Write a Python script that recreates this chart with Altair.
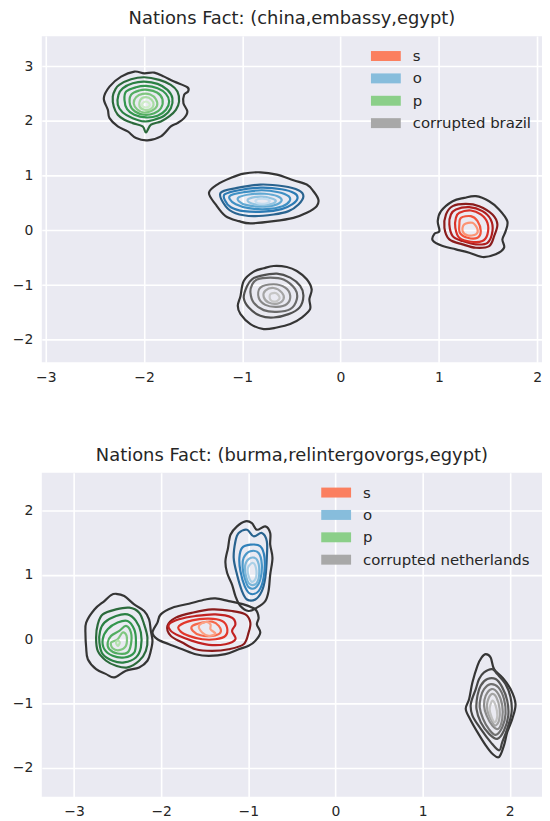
import altair as alt
import pandas as pd

# ---------------- Panel 1: (china, embassy, egypt) ----------------
TITLE_1 = "Nations Fact: (china,embassy,egypt)"
LEGEND_1 = ["s", "o", "p", "corrupted brazil"]
X_TICKS_1 = [-3, -2, -1, 0, 1, 2]
Y_TICKS_1 = [-2, -1, 0, 1, 2, 3]
X_DOMAIN_1 = [-3.04, 2.05]
Y_DOMAIN_1 = [-2.41, 3.55]

# contour rings, outermost first (x, y)
P1_GREEN = [
    [(-2.098, 2.902), (-1.997, 2.871), (-1.896, 2.883), (-1.795, 2.810), (-1.694, 2.719), (-1.559, 2.616),
     (-1.552, 2.538), (-1.592, 2.477), (-1.599, 2.324), (-1.559, 2.173), (-1.592, 2.051), (-1.660, 1.960),
     (-1.727, 1.900), (-1.828, 1.718), (-1.964, 1.645), (-2.081, 1.687), (-2.166, 1.809), (-2.267, 1.900),
     (-2.351, 2.051), (-2.368, 2.204), (-2.409, 2.415), (-2.351, 2.628), (-2.233, 2.810)],
    [(-2.252, 2.659), (-2.132, 2.761), (-1.997, 2.798), (-1.845, 2.750), (-1.727, 2.659), (-1.660, 2.537),
     (-1.643, 2.355), (-1.676, 2.204), (-1.744, 2.082), (-1.828, 1.991), (-1.929, 1.931), (-1.980, 1.791),
     (-2.014, 1.900), (-2.115, 1.960), (-2.200, 2.022), (-2.267, 2.113), (-2.308, 2.264), (-2.318, 2.446),
     (-2.294, 2.568)],
    [(-2.217, 2.597), (-2.115, 2.689), (-1.997, 2.719), (-1.862, 2.678), (-1.761, 2.568), (-1.711, 2.415),
     (-1.727, 2.233), (-1.795, 2.095), (-1.896, 2.022), (-1.997, 1.991), (-2.115, 2.051), (-2.217, 2.155),
     (-2.267, 2.295), (-2.260, 2.477)],
    [(-2.182, 2.537), (-2.081, 2.616), (-1.980, 2.641), (-1.862, 2.597), (-1.777, 2.495), (-1.744, 2.355),
     (-1.777, 2.204), (-1.862, 2.095), (-1.980, 2.064), (-2.099, 2.113), (-2.172, 2.215), (-2.199, 2.386)],
    [(-2.132, 2.477), (-2.048, 2.556), (-1.964, 2.568), (-1.868, 2.519), (-1.812, 2.397), (-1.828, 2.233),
     (-1.896, 2.142), (-1.997, 2.113), (-2.091, 2.173), (-2.142, 2.295)],
    [(-2.081, 2.434), (-2.014, 2.495), (-1.936, 2.483), (-1.879, 2.397), (-1.868, 2.277), (-1.923, 2.186),
     (-2.004, 2.155), (-2.071, 2.215), (-2.105, 2.324)],
    [(-2.037, 2.386), (-1.980, 2.434), (-1.923, 2.386), (-1.903, 2.295), (-1.936, 2.215), (-1.997, 2.204),
     (-2.045, 2.264)],
    [(-2.017, 2.319), (-1.982, 2.355), (-1.946, 2.319), (-1.946, 2.273), (-1.982, 2.246), (-2.017, 2.273)],
]
P1_GREEN_COLORS = ["#353535", "#2b6a3b", "#2a8043", "#33964e", "#52ad61", "#80c780", "#a8dca3", "#cfedca"]

P1_BLUE = [
    [(-1.339, 0.685), (-1.255, 0.838), (-1.119, 0.958), (-0.985, 1.038), (-0.816, 1.062), (-0.648, 1.020),
     (-0.479, 0.916), (-0.344, 0.838), (-0.276, 0.716), (-0.226, 0.565), (-0.243, 0.443), (-0.344, 0.321),
     (-0.479, 0.230), (-0.681, 0.169), (-0.917, 0.128), (-1.035, 0.169), (-1.170, 0.260), (-1.271, 0.474)],
    [(-1.221, 0.685), (-1.053, 0.776), (-0.816, 0.838), (-0.580, 0.807), (-0.428, 0.734), (-0.378, 0.625),
     (-0.428, 0.474), (-0.529, 0.352), (-0.681, 0.291), (-0.884, 0.260), (-1.069, 0.315), (-1.170, 0.443)],
    [(-1.177, 0.661), (-1.035, 0.734), (-0.813, 0.780), (-0.600, 0.752), (-0.469, 0.679), (-0.438, 0.588),
     (-0.489, 0.479), (-0.600, 0.388), (-0.782, 0.342), (-0.985, 0.352), (-1.116, 0.424), (-1.177, 0.552)],
    [(-1.116, 0.643), (-0.985, 0.698), (-0.803, 0.734), (-0.631, 0.698), (-0.529, 0.625), (-0.519, 0.534),
     (-0.590, 0.443), (-0.752, 0.388), (-0.934, 0.406), (-1.066, 0.479), (-1.127, 0.570)],
    [(-1.035, 0.607), (-0.914, 0.661), (-0.772, 0.670), (-0.641, 0.625), (-0.600, 0.543), (-0.671, 0.461),
     (-0.813, 0.434), (-0.954, 0.461), (-1.035, 0.534)],
    [(-0.934, 0.579), (-0.813, 0.616), (-0.691, 0.579), (-0.661, 0.525), (-0.732, 0.470), (-0.853, 0.470),
     (-0.934, 0.516)],
    [(-0.863, 0.552), (-0.792, 0.579), (-0.722, 0.543), (-0.752, 0.497), (-0.843, 0.497)],
]
P1_BLUE_COLORS = ["#353535", "#29638f", "#2c7bb4", "#3f90c4", "#62a9d3", "#93c4e1", "#c3dcef"]

P1_RED = [
    [(1.377, 0.625), (1.512, 0.534), (1.613, 0.383), (1.697, 0.169), (1.680, -0.013), (1.647, -0.164),
     (1.664, -0.317), (1.579, -0.437), (1.444, -0.486), (1.310, -0.408), (1.174, -0.346), (1.039, -0.286),
     (0.938, -0.182), (0.955, -0.062), (1.006, -0.013), (0.989, 0.169), (1.022, 0.352), (1.141, 0.534),
     (1.259, 0.594)],
    [(1.141, 0.443), (1.275, 0.485), (1.411, 0.443), (1.546, 0.291), (1.596, 0.109), (1.563, -0.104),
     (1.512, -0.286), (1.377, -0.317), (1.242, -0.255), (1.107, -0.164), (1.057, 0.047), (1.073, 0.291)],
    [(1.174, 0.383), (1.310, 0.424), (1.444, 0.352), (1.528, 0.200), (1.546, -0.013), (1.495, -0.226),
     (1.377, -0.255), (1.242, -0.195), (1.141, -0.104), (1.107, 0.109), (1.123, 0.291)],
    [(1.209, 0.321), (1.326, 0.364), (1.427, 0.291), (1.495, 0.138), (1.495, -0.073), (1.444, -0.195),
     (1.326, -0.208), (1.209, -0.135), (1.168, 0.047), (1.174, 0.230)],
    [(1.225, 0.230), (1.326, 0.260), (1.394, 0.169), (1.427, -0.013), (1.394, -0.135), (1.293, -0.135),
     (1.215, -0.044), (1.209, 0.109)],
    [(1.259, 0.109), (1.343, 0.138), (1.394, 0.018), (1.377, -0.073), (1.293, -0.091), (1.242, -0.013)],
]
P1_RED_COLORS = ["#353535", "#8a1c1c", "#b01e1e", "#d83027", "#f2543b", "#fc9474"]

P1_GRAY = [
    [(-0.681, -0.650), (-0.547, -0.668), (-0.445, -0.741), (-0.344, -0.893), (-0.294, -1.075), (-0.317, -1.257),
     (-0.310, -1.439), (-0.395, -1.592), (-0.512, -1.712), (-0.648, -1.774), (-0.782, -1.803), (-0.917, -1.712),
     (-1.018, -1.530), (-1.046, -1.379), (-1.018, -1.197), (-0.985, -0.923), (-0.884, -0.754), (-0.782, -0.692)],
    [(-0.816, -0.832), (-0.648, -0.790), (-0.512, -0.863), (-0.411, -1.015), (-0.378, -1.197), (-0.418, -1.410),
     (-0.529, -1.530), (-0.681, -1.592), (-0.816, -1.561), (-0.934, -1.410), (-0.985, -1.228), (-0.951, -1.015),
     (-0.901, -0.893)],
    [(-0.850, -0.898), (-0.715, -0.863), (-0.580, -0.898), (-0.462, -1.075), (-0.445, -1.257), (-0.512, -1.439),
     (-0.648, -1.488), (-0.782, -1.457), (-0.884, -1.319), (-0.917, -1.137), (-0.901, -0.996)],
    [(-0.816, -1.046), (-0.681, -0.984), (-0.563, -1.046), (-0.512, -1.197), (-0.547, -1.348), (-0.648, -1.397),
     (-0.765, -1.361), (-0.833, -1.228)],
    [(-0.765, -1.101), (-0.681, -1.052), (-0.597, -1.137), (-0.580, -1.257), (-0.641, -1.337), (-0.732, -1.319),
     (-0.782, -1.215)],
    [(-0.715, -1.166), (-0.654, -1.148), (-0.620, -1.239), (-0.664, -1.301), (-0.715, -1.264)],
]
P1_GRAY_COLORS = ["#353535", "#505050", "#6a6a6a", "#878787", "#a5a5a5", "#c6c6c6"]

# ---------------- Panel 2: (burma, relintergovorgs, egypt) ----------------
TITLE_2 = "Nations Fact: (burma,relintergovorgs,egypt)"
LEGEND_2 = ["s", "o", "p", "corrupted netherlands"]
X_TICKS_2 = [-3, -2, -1, 0, 1, 2]
Y_TICKS_2 = [-2, -1, 0, 1, 2]
X_DOMAIN_2 = [-3.37, 2.37]
Y_DOMAIN_2 = [-2.45, 2.59]

P2_GREEN = [
    [(-2.518, 0.707), (-2.424, 0.672), (-2.310, 0.542), (-2.196, 0.440), (-2.139, 0.310), (-2.119, 0.130),
     (-2.100, -0.025), (-2.119, -0.180), (-2.158, -0.334), (-2.253, -0.438), (-2.404, -0.489), (-2.538, -0.593),
     (-2.632, -0.542), (-2.747, -0.464), (-2.842, -0.310), (-2.861, -0.128), (-2.869, 0.077), (-2.861, 0.259),
     (-2.766, 0.464), (-2.652, 0.594), (-2.575, 0.687)],
    [(-2.671, 0.387), (-2.518, 0.464), (-2.366, 0.491), (-2.253, 0.413), (-2.196, 0.232), (-2.158, 0.026),
     (-2.176, -0.180), (-2.253, -0.334), (-2.386, -0.438), (-2.518, -0.412), (-2.632, -0.334), (-2.728, -0.180),
     (-2.747, 0.026), (-2.728, 0.232)],
    [(-2.652, 0.259), (-2.518, 0.362), (-2.386, 0.387), (-2.290, 0.285), (-2.233, 0.104), (-2.233, -0.128),
     (-2.290, -0.283), (-2.424, -0.359), (-2.557, -0.334), (-2.671, -0.232), (-2.709, -0.051), (-2.701, 0.130)],
    [(-2.614, 0.155), (-2.500, 0.259), (-2.386, 0.285), (-2.310, 0.155), (-2.290, -0.025), (-2.310, -0.206),
     (-2.424, -0.283), (-2.557, -0.257), (-2.652, -0.155), (-2.671, 0.0)],
    [(-2.575, 0.053), (-2.481, 0.130), (-2.404, 0.207), (-2.347, 0.104), (-2.347, -0.077), (-2.386, -0.206),
     (-2.500, -0.221), (-2.595, -0.155), (-2.614, -0.051)],
    [(-2.575, -0.051), (-2.500, 0.0), (-2.443, 0.104), (-2.397, 0.053), (-2.404, -0.102), (-2.481, -0.170),
     (-2.557, -0.139)],
    [(-2.518, -0.051), (-2.498, -0.020), (-2.475, -0.051), (-2.498, -0.105)],
]
P2_GREEN_COLORS = ["#353535", "#2b6a3b", "#2a8043", "#33964e", "#52ad61", "#80c780", "#b4e1ae"]

P2_RED = [
    [(-2.100, 0.104), (-2.043, 0.259), (-2.005, 0.387), (-1.872, 0.491), (-1.682, 0.553), (-1.491, 0.619),
     (-1.377, 0.635), (-1.225, 0.594), (-1.054, 0.542), (-0.920, 0.464), (-0.882, 0.336), (-0.902, 0.232),
     (-0.863, 0.104), (-0.920, -0.025), (-0.997, -0.102), (-1.111, -0.155), (-1.263, -0.232), (-1.453, -0.257),
     (-1.605, -0.232), (-1.758, -0.155), (-1.910, -0.077), (-2.043, 0.0)],
    [(-1.929, 0.207), (-1.833, 0.336), (-1.644, 0.413), (-1.416, 0.464), (-1.187, 0.440), (-1.034, 0.387),
     (-0.977, 0.259), (-0.997, 0.104), (-1.054, -0.077), (-1.225, -0.155), (-1.416, -0.180), (-1.605, -0.155),
     (-1.758, -0.051), (-1.890, 0.053)],
    [(-1.910, 0.232), (-1.796, 0.310), (-1.605, 0.362), (-1.377, 0.387), (-1.187, 0.336), (-1.148, 0.232),
     (-1.187, 0.130), (-1.148, 0.0), (-1.263, -0.077), (-1.453, -0.087), (-1.644, -0.025), (-1.796, 0.053),
     (-1.890, 0.130)],
    [(-1.796, 0.207), (-1.644, 0.294), (-1.453, 0.320), (-1.301, 0.285), (-1.244, 0.181), (-1.263, 0.053),
     (-1.377, 0.0), (-1.530, 0.0), (-1.682, 0.053), (-1.776, 0.119)],
    [(-1.644, 0.207), (-1.530, 0.259), (-1.416, 0.274), (-1.339, 0.207), (-1.320, 0.104), (-1.416, 0.053),
     (-1.548, 0.062), (-1.636, 0.130)],
    [(-1.567, 0.207), (-1.491, 0.269), (-1.434, 0.232), (-1.434, 0.155), (-1.377, 0.088), (-1.453, 0.053),
     (-1.530, 0.104)],
]
P2_RED_COLORS = ["#353535", "#8a1c1c", "#c22222", "#e2372b", "#f6684b", "#fca083"]

P2_BLUE = [
    [(-1.034, 1.833), (-0.959, 1.806), (-0.902, 1.703), (-0.806, 1.755), (-0.749, 1.652), (-0.749, 1.471),
     (-0.723, 1.265), (-0.749, 1.006), (-0.768, 0.749), (-0.806, 0.594), (-0.902, 0.491), (-0.997, 0.440),
     (-1.091, 0.517), (-1.148, 0.672), (-1.187, 0.851), (-1.244, 1.033), (-1.263, 1.214), (-1.233, 1.420),
     (-1.205, 1.625), (-1.130, 1.755)],
    [(-1.111, 1.652), (-1.016, 1.703), (-0.939, 1.601), (-0.845, 1.652), (-0.788, 1.523), (-0.788, 1.265),
     (-0.806, 0.955), (-0.845, 0.749), (-0.920, 0.619), (-1.016, 0.619), (-1.073, 0.749), (-1.130, 1.006),
     (-1.168, 1.265), (-1.148, 1.523)],
    [(-1.073, 1.420), (-0.977, 1.471), (-0.863, 1.446), (-0.814, 1.265), (-0.825, 0.955), (-0.882, 0.749),
     (-0.977, 0.707), (-1.042, 0.827), (-1.091, 1.059), (-1.103, 1.265)],
    [(-1.054, 1.265), (-0.977, 1.368), (-0.882, 1.342), (-0.845, 1.161), (-0.863, 0.929), (-0.920, 0.800),
     (-0.997, 0.811), (-1.042, 0.955), (-1.065, 1.110)],
    [(-1.034, 1.161), (-0.977, 1.265), (-0.902, 1.238), (-0.874, 1.059), (-0.902, 0.878), (-0.977, 0.851),
     (-1.027, 0.981)],
    [(-1.005, 1.110), (-0.951, 1.187), (-0.913, 1.110), (-0.913, 0.955), (-0.959, 0.893), (-0.997, 0.981)],
]
P2_BLUE_COLORS = ["#353535", "#29638f", "#3081ba", "#4b98c9", "#7ab6d9", "#abd0e7"]

P2_GRAY = [
    [(1.724, -0.232), (1.781, -0.283), (1.820, -0.464), (1.914, -0.593), (2.009, -0.774), (2.066, -1.006),
     (2.029, -1.238), (1.971, -1.444), (1.934, -1.650), (1.877, -1.831), (1.800, -1.780), (1.724, -1.650),
     (1.629, -1.444), (1.553, -1.263), (1.495, -1.084), (1.534, -0.929), (1.572, -0.670), (1.629, -0.412),
     (1.678, -0.283)],
    [(1.705, -0.515), (1.800, -0.464), (1.857, -0.542), (1.952, -0.697), (2.009, -0.902), (2.021, -1.135),
     (1.971, -1.393), (1.914, -1.599), (1.877, -1.728), (1.781, -1.599), (1.667, -1.393), (1.572, -1.186),
     (1.553, -1.006), (1.610, -0.774), (1.648, -0.619)],
    [(1.667, -0.721), (1.743, -0.619), (1.838, -0.619), (1.914, -0.748), (1.971, -0.954), (1.983, -1.186),
     (1.934, -1.418), (1.857, -1.548), (1.763, -1.471), (1.667, -1.289), (1.618, -1.084), (1.629, -0.876)],
    [(1.705, -0.774), (1.781, -0.697), (1.869, -0.748), (1.934, -0.929), (1.952, -1.161), (1.914, -1.367),
     (1.838, -1.486), (1.763, -1.402), (1.694, -1.238), (1.655, -1.057), (1.667, -0.902)],
    [(1.724, -0.876), (1.792, -0.774), (1.869, -0.851), (1.914, -1.031), (1.914, -1.238), (1.869, -1.393),
     (1.800, -1.341), (1.735, -1.186), (1.705, -1.031)],
    [(1.743, -0.980), (1.792, -0.851), (1.846, -0.902), (1.884, -1.084), (1.877, -1.263), (1.831, -1.341),
     (1.781, -1.238), (1.743, -1.108)],
    [(1.769, -1.084), (1.800, -0.954), (1.838, -1.031), (1.857, -1.186), (1.831, -1.289), (1.792, -1.212)],
]
P2_GRAY_COLORS = ["#353535", "#444444", "#595959", "#707070", "#898989", "#a4a4a4", "#c2c2c2"]

LEGEND_COLORS = ["#fb7f5f", "#87bddc", "#8bcf89", "#a8a8a8"]

TEXT_COLOR = "#262626"
BG = "#EAEAF2"
FONT = "DejaVu Sans"
RECT_PATH = "M-1.5,-0.5L1.5,-0.5L1.5,0.5L-1.5,0.5Z"


def ring_table(blobs):
    rows = []
    for bname, rings, colors in blobs:
        for ri, ring in enumerate(rings):
            for pi, (x, y) in enumerate(ring):
                rows.append({"ring": f"{bname}-{ri}", "level": ri, "order": pi,
                             "x": x, "y": y, "col": colors[ri]})
    return pd.DataFrame(rows)


def panel(blobs, title, labels, xdom, ydom, xticks, yticks, w, h, lx, ly):
    df = ring_table(blobs)
    # blob centres (innermost ring first point) as anchors for the legend entries
    anchor = pd.DataFrame({
        "label": labels,
        "x": [blobs[i][1][-1][0][0] for i in (0, 1, 2, 3)],
        "y": [blobs[i][1][-1][0][1] for i in (0, 1, 2, 3)],
    })
    xs = alt.Scale(domain=xdom, nice=False, zero=False)
    ys = alt.Scale(domain=ydom, nice=False, zero=False)
    xax = alt.Axis(values=xticks, title=None, grid=True, gridColor="white", gridWidth=1.6,
                   domain=False, ticks=False, labelPadding=8, labelFontSize=14,
                   labelColor=TEXT_COLOR, labelFont=FONT, format="d")
    yax = alt.Axis(values=yticks, title=None, grid=True, gridColor="white", gridWidth=1.6,
                   domain=False, ticks=False, labelPadding=9, labelFontSize=14,
                   labelColor=TEXT_COLOR, labelFont=FONT, format="d",
                   minExtent=34, maxExtent=34)
    lines = alt.Chart(df).mark_line(interpolate="cardinal-closed", strokeWidth=2.2, clip=True).encode(
        x=alt.X("x:Q", scale=xs, axis=xax),
        y=alt.Y("y:Q", scale=ys, axis=yax),
        detail="ring:N",
        order="order:Q",
        stroke=alt.Stroke("col:N", scale=None),
    )
    leg = alt.Chart(anchor).mark_point(filled=True, opacity=0).encode(
        x=alt.X("x:Q", scale=xs),
        y=alt.Y("y:Q", scale=ys),
        fill=alt.Fill("label:N", scale=alt.Scale(domain=labels, range=LEGEND_COLORS),
                      legend=alt.Legend(title=None, orient="none", legendX=lx, legendY=ly,
                                        symbolType=RECT_PATH, symbolSize=400, symbolOpacity=1,
                                        symbolStrokeWidth=0, labelFont=FONT, labelFontSize=15,
                                        labelColor=TEXT_COLOR, labelOffset=17, rowPadding=4.5,
                                        labelLimit=0)),
    )
    return alt.layer(lines, leg).properties(
        width=w, height=h,
        title=alt.TitleParams(title, font=FONT, fontSize=18, color=TEXT_COLOR, fontWeight="normal",
                              anchor="middle", offset=8),
    )


top = panel([("red", P1_RED, P1_RED_COLORS), ("blue", P1_BLUE, P1_BLUE_COLORS),
             ("green", P1_GREEN, P1_GREEN_COLORS), ("gray", P1_GRAY, P1_GRAY_COLORS)],
            TITLE_1, LEGEND_1, X_DOMAIN_1, Y_DOMAIN_1, X_TICKS_1, Y_TICKS_1, 503, 328, 336, 10)
bottom = panel([("red", P2_RED, P2_RED_COLORS), ("blue", P2_BLUE, P2_BLUE_COLORS),
                ("green", P2_GREEN, P2_GREEN_COLORS), ("gray", P2_GRAY, P2_GRAY_COLORS)],
               TITLE_2, LEGEND_2, X_DOMAIN_2, Y_DOMAIN_2, X_TICKS_2, Y_TICKS_2, 503, 326, 286, 10)

chart = alt.vconcat(top, bottom, spacing=63).resolve_scale(fill="independent").properties(
    padding={"left": 0, "top": 0, "right": 0, "bottom": 0}, background="white"
).configure_view(fill=BG, stroke=None)

chart.save("out.html", embed_options={"renderer": "svg", "actions": False})
